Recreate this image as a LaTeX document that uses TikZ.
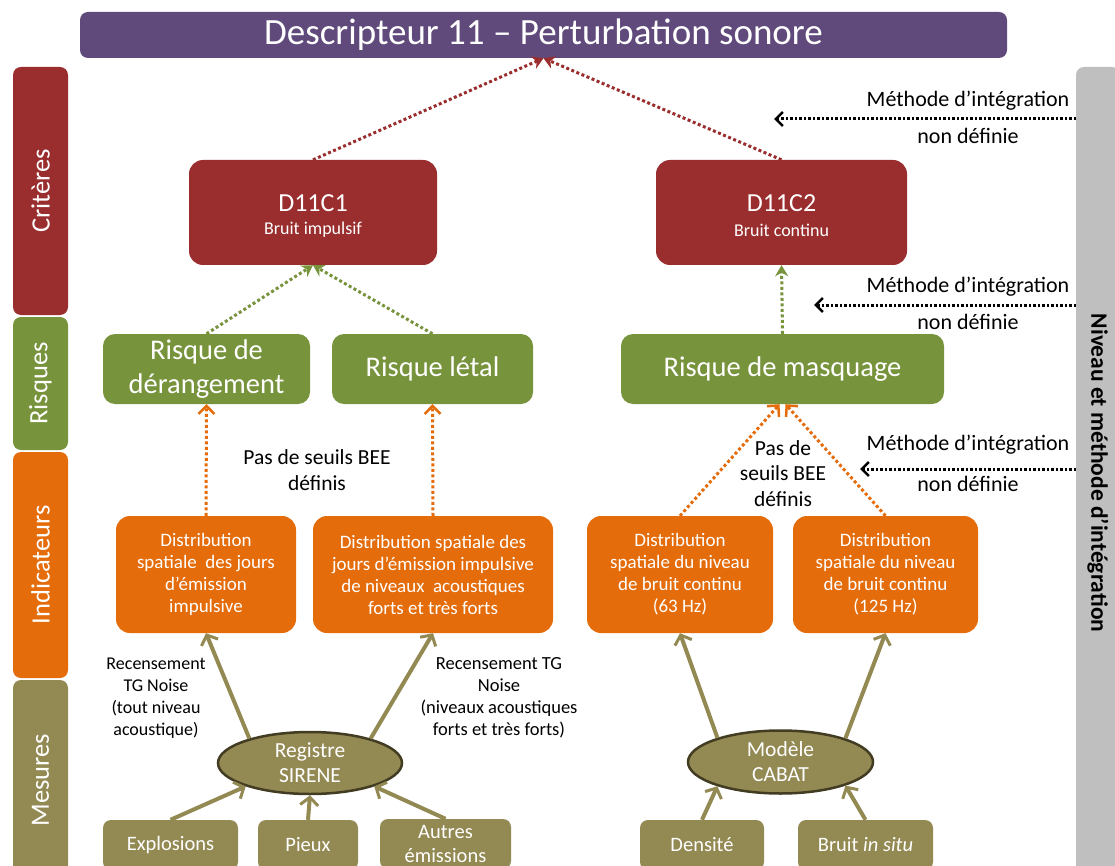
\documentclass[tikz,border=0pt]{standalone}
\usepackage{fontspec}
\setmainfont{Carlito}
\usetikzlibrary{shapes.geometric,arrows.meta}
\definecolor{cpurple}{RGB}{96,74,123}
\definecolor{cred}{RGB}{154,46,46}
\definecolor{cgreen}{RGB}{119,147,60}
\definecolor{corange}{RGB}{228,108,10}
\definecolor{colive}{RGB}{147,137,83}
\definecolor{cgray}{RGB}{191,191,191}
\definecolor{cedge}{RGB}{66,60,34}
\newcommand{\fsz}[2]{\fontsize{#1pt}{#2pt}\selectfont}
\begin{document}
\begin{tikzpicture}[x=1pt,y=-1pt,
  sidebar/.style={fill=#1, rounded corners=8pt, rotate=90, text=white,
    minimum height=55pt, inner sep=0pt, font=\fsz{26.5}{30}},
  critbox/.style={fill=cred, rounded corners=14pt,
    minimum height=105pt, inner sep=0pt},
  crittxt/.style={text=white, inner sep=0pt},
  riskbox/.style={fill=cgreen, rounded corners=12pt, text=white, align=center,
    minimum height=70pt, inner sep=0pt, font=\fsz{28.5}{34}},
  indbox/.style={fill=corange, rounded corners=14pt, text=white, align=center,
    minimum height=117pt, inner sep=0pt, font=\fsz{19}{22}},
  mesbox/.style={fill=colive, rounded corners=8pt, text=white, align=center,
    minimum height=50pt, inner sep=0pt, font=\fsz{20.5}{24}},
  mesell/.style={ellipse, fill=colive, draw=cedge, line width=2.5pt, text=white,
    align=center, inner sep=0pt, font=\fsz{21.5}{25}},
  lbl/.style={align=center, inner sep=0pt, text=black},
  reddot/.style={draw=cred, line width=3pt, dash pattern=on 3pt off 2.5pt,
    -{Stealth[length=11pt,width=13pt]}},
  greendot/.style={draw=cgreen, line width=3pt, dash pattern=on 3pt off 2.5pt,
    -{Stealth[length=11pt,width=13pt]}},
  orangedot/.style={draw=corange, line width=3pt, dash pattern=on 3pt off 2.5pt,
    -{Straight Barb[length=8pt,width=16pt,line width=2.5pt]}},
  blackdot/.style={draw=black, line width=3pt, dash pattern=on 2.5pt off 2pt,
    -{Straight Barb[length=7pt,width=14pt,line width=2.5pt]}},
  olivearr/.style={draw=colive, line width=4pt,
    -{Straight Barb[length=8pt,width=18pt,line width=3pt]}}
]
\useasboundingbox (0,0) rectangle (1115,866);
\clip (0,0) rectangle (1115,866);

% title
\node[fill=cpurple, rounded corners=8pt, text=white, minimum width=927pt,
  minimum height=46pt, inner sep=0pt, font=\fsz{37}{40}] (title) at (543.5,35)
  {Descripteur 11 – Perturbation sonore};

% side bars
\node[sidebar=cred, minimum width=248pt] (bcrit) at (40.5,191) {Critères};
\node[sidebar=cgreen, minimum width=133pt] (brisk) at (40.5,383.5) {Risques};
\node[sidebar=corange, minimum width=226pt] (bind) at (40.5,565) {Indicateurs};
\node[sidebar=colive, minimum width=200pt] (bmes) at (40.5,780) {Mesures};

% right gray bar
\node[fill=cgray, rounded corners=8pt, rotate=-90, minimum width=812pt,
  minimum height=44pt, inner sep=0pt, font=\bfseries\fsz{23.5}{27}] (gbar)
  at (1098,473) {Niveau et méthode d’intégration};

% criteria
\node[critbox, minimum width=248pt] (d1) at (313,212.5) {};
\node[crittxt, font=\fsz{26}{30}] (d1a) at (313,203) {D11C1};
\node[crittxt, font=\fsz{18}{22}] (d1b) at (313,230) {Bruit impulsif};
\node[critbox, minimum width=251pt] (d2) at (781.5,212.5) {};
\node[crittxt, font=\fsz{26}{30}] (d2a) at (781.5,203) {D11C2};
\node[crittxt, font=\fsz{18}{22}] (d2b) at (781.5,230) {Bruit continu};

% risks
\node[riskbox, minimum width=207pt] (rd) at (206.5,369) {Risque de\\dérangement};
\node[riskbox, minimum width=201pt] (rl) at (432.5,369) {Risque létal};
\node[riskbox, minimum width=323pt] (rm) at (782.5,369) {Risque de masquage};

% indicators
\node[indbox, minimum width=180pt] (i1) at (206,574.5)
  {Distribution\\spatiale~ des jours\\d’émission\\impulsive};
\node[indbox, minimum width=240pt] (i2) at (433,574.5)
  {Distribution spatiale des\\jours d’émission impulsive\\de niveaux~ acoustiques\\forts et très forts};
\node[indbox, minimum width=186pt] (i3) at (680,574.5)
  {Distribution\\spatiale du niveau\\de bruit continu\\(63 Hz)};
\node[indbox, minimum width=185pt] (i4) at (885.5,574.5)
  {Distribution\\spatiale du niveau\\de bruit continu\\(125 Hz)};

% measures
\node[mesell, minimum width=184pt, minimum height=62pt] (sir) at (310,763)
  {Registre\\SIRENE};
\node[mesell, minimum width=185pt, minimum height=63pt] (cab) at (780.5,762)
  {Modèle\\CABAT};
\node[mesbox, minimum width=135pt] (expl) at (170.5,845) {Explosions};
\node[mesbox, minimum width=100pt] (pieux) at (308,845) {Pieux};
\node[mesbox, minimum width=131pt] (autres) at (445.5,844) {Autres\\émissions};
\node[mesbox, minimum width=124pt] (dens) at (702,845) {Densité};
\node[mesbox, minimum width=135pt] (bruit) at (865.5,845) {Bruit \textit{in situ}};

% labels
\node[lbl, font=\fsz{21.5}{26}] (pas1) at (317,470) {Pas de seuils BEE\\définis};
\node[lbl, font=\fsz{21.5}{25.5}] (pas2) at (783,473.5) {Pas de\\seuils BEE\\définis};
\node[lbl, font=\fsz{18}{22}] (rec1) at (156,698)
  {Recensement\\TG Noise\\(tout niveau\\acoustique)};
\node[lbl, font=\fsz{18.5}{22}] (rec2) at (499,698)
  {Recensement TG\\Noise\\(niveaux acoustiques\\forts et très forts)};

\node[lbl, font=\fsz{22}{24}] (m1a) at (968,101) {Méthode d’intégration};
\node[lbl, font=\fsz{22}{24}] (m1b) at (968,136) {non définie};
\node[lbl, font=\fsz{22}{24}] (m2a) at (968,287) {Méthode d’intégration};
\node[lbl, font=\fsz{22}{24}] (m2b) at (968,322) {non définie};
\node[lbl, font=\fsz{22}{24}] (m3a) at (968,445) {Méthode d’intégration};
\node[lbl, font=\fsz{22}{24}] (m3b) at (968,484) {non définie};

\coordinate (s1) at (1076,119);
\coordinate (e1) at (774,119);
\coordinate (s2) at (1076,305);
\coordinate (e2) at (814,305);
\coordinate (s3) at (1076,469);
\coordinate (e3) at (860,469);

% connectors
\draw[reddot] (d1.north) -- (title.south);
\draw[reddot] (d2.north) -- (title.south);
\draw[greendot] (rd.north) -- (d1.south);
\draw[greendot] (rl.north) -- (d1.south);
\draw[greendot] (rm.north) -- (d2.south);
\draw[orangedot] (i1.north) -- (rd.south);
\draw[orangedot] (i2.north) -- (rl.south);
\draw[orangedot] (i3.north) -- ([xshift=-3pt]rm.south);
\draw[orangedot] (i4.north) -- ([xshift=3pt]rm.south);

\draw[olivearr] (sir.158) -- (i1.south);
\draw[olivearr] (sir.22) -- (i2.south);
\draw[olivearr] (cab.159) -- (i3.south);
\draw[olivearr] (cab.20) -- (i4.south);
\draw[olivearr] (expl.north) -- (sir.200);
\draw[olivearr] (pieux.north) -- (sir.south);
\draw[olivearr] (autres.north) -- (sir.340);
\draw[olivearr] (dens.north) -- (cab.201);
\draw[olivearr] (bruit.north) -- (cab.340);

\draw[blackdot] (s1) -- (e1);
\draw[blackdot] (s2) -- (e2);
\draw[blackdot] (s3) -- (e3);
\end{tikzpicture}
\end{document}
